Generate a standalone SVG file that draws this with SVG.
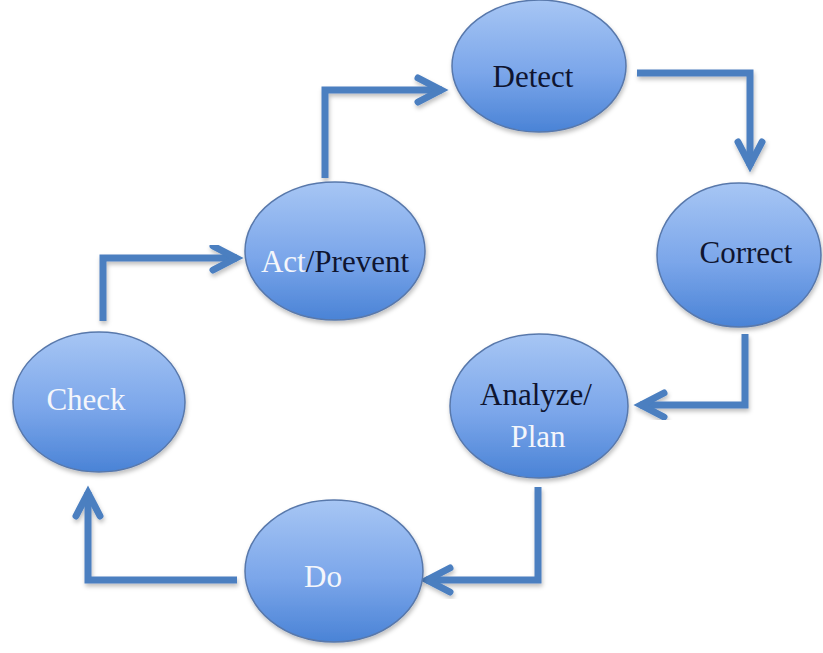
<svg xmlns="http://www.w3.org/2000/svg" width="823" height="653" viewBox="0 0 823 653">
  <defs>
    <linearGradient id="g" x1="0" y1="0" x2="0" y2="1">
      <stop offset="0" stop-color="#a7c6f4"/>
      <stop offset="0.55" stop-color="#7ba6ea"/>
      <stop offset="1" stop-color="#4a83d6"/>
    </linearGradient>
    <filter id="sh" x="-20%" y="-20%" width="140%" height="140%">
      <feDropShadow dx="1" dy="3" stdDeviation="2" flood-color="#000" flood-opacity="0.25"/>
    </filter>
    <marker id="ah" markerUnits="userSpaceOnUse" markerWidth="60" markerHeight="60" refX="0" refY="0" viewBox="-30 -30 60 60" orient="auto" overflow="visible">
      <path d="M-24,-12 L-1,0 L-24,12" fill="none" stroke="#4b7fc0" stroke-width="7" stroke-linecap="round" stroke-linejoin="miter"/>
    </marker>
  </defs>
  <style>
    .node ellipse { fill: url(#g); stroke: #5878ab; stroke-width: 1.5; filter: url(#sh); }
    text { font-family: "Liberation Serif", "Times New Roman", Tinos, "Nimbus Roman", "DejaVu Serif", serif; font-size: 31px; text-anchor: middle; }
    .dk { fill: #0f1530; }
    .lt { fill: #f4f6fb; }
    .conn path { fill: none; stroke: #4b7fc0; stroke-width: 7; stroke-linejoin: miter; marker-end: url(#ah); filter: url(#sh); }
  </style>
  <rect width="823" height="653" fill="#ffffff"/>
  <g id="connectors" class="conn">
    <path d="M325,178 L325,90 L442,90"/>
    <path d="M637,73 L750,73 L750,166"/>
    <path d="M745,334 L745,405 L640,405"/>
    <path d="M538,487 L538,580 L426,580"/>
    <path d="M237,580 L88,580 L88,492"/>
    <path d="M103,321 L103,258 L237,258"/>
  </g>
  <g id="detect" class="node">
    <ellipse cx="539" cy="66" rx="87" ry="66"/>
    <text class="dk" x="533" y="87" font-family="Liberation Serif, serif">Detect</text>
  </g>
  <g id="correct" class="node">
    <ellipse cx="739" cy="255" rx="82" ry="72"/>
    <text class="dk" x="746" y="263" font-family="Liberation Serif, serif">Correct</text>
  </g>
  <g id="analyze" class="node">
    <ellipse cx="539" cy="406" rx="89" ry="72"/>
    <text class="dk" x="536" y="405" font-family="Liberation Serif, serif">Analyze/</text>
    <text class="lt" x="538" y="447" font-family="Liberation Serif, serif">Plan</text>
  </g>
  <g id="do" class="node">
    <ellipse cx="334" cy="571" rx="89" ry="71"/>
    <text class="lt" x="323" y="587" font-family="Liberation Serif, serif">Do</text>
  </g>
  <g id="check" class="node">
    <ellipse cx="99" cy="402" rx="86" ry="70"/>
    <text class="lt" x="86" y="410" font-family="Liberation Serif, serif">Check</text>
  </g>
  <g id="act" class="node">
    <ellipse cx="335" cy="251" rx="90" ry="69"/>
    <text x="335" y="272" font-family="Liberation Serif, serif"><tspan class="lt">Act</tspan><tspan class="dk">/Prevent</tspan></text>
  </g>
</svg>
